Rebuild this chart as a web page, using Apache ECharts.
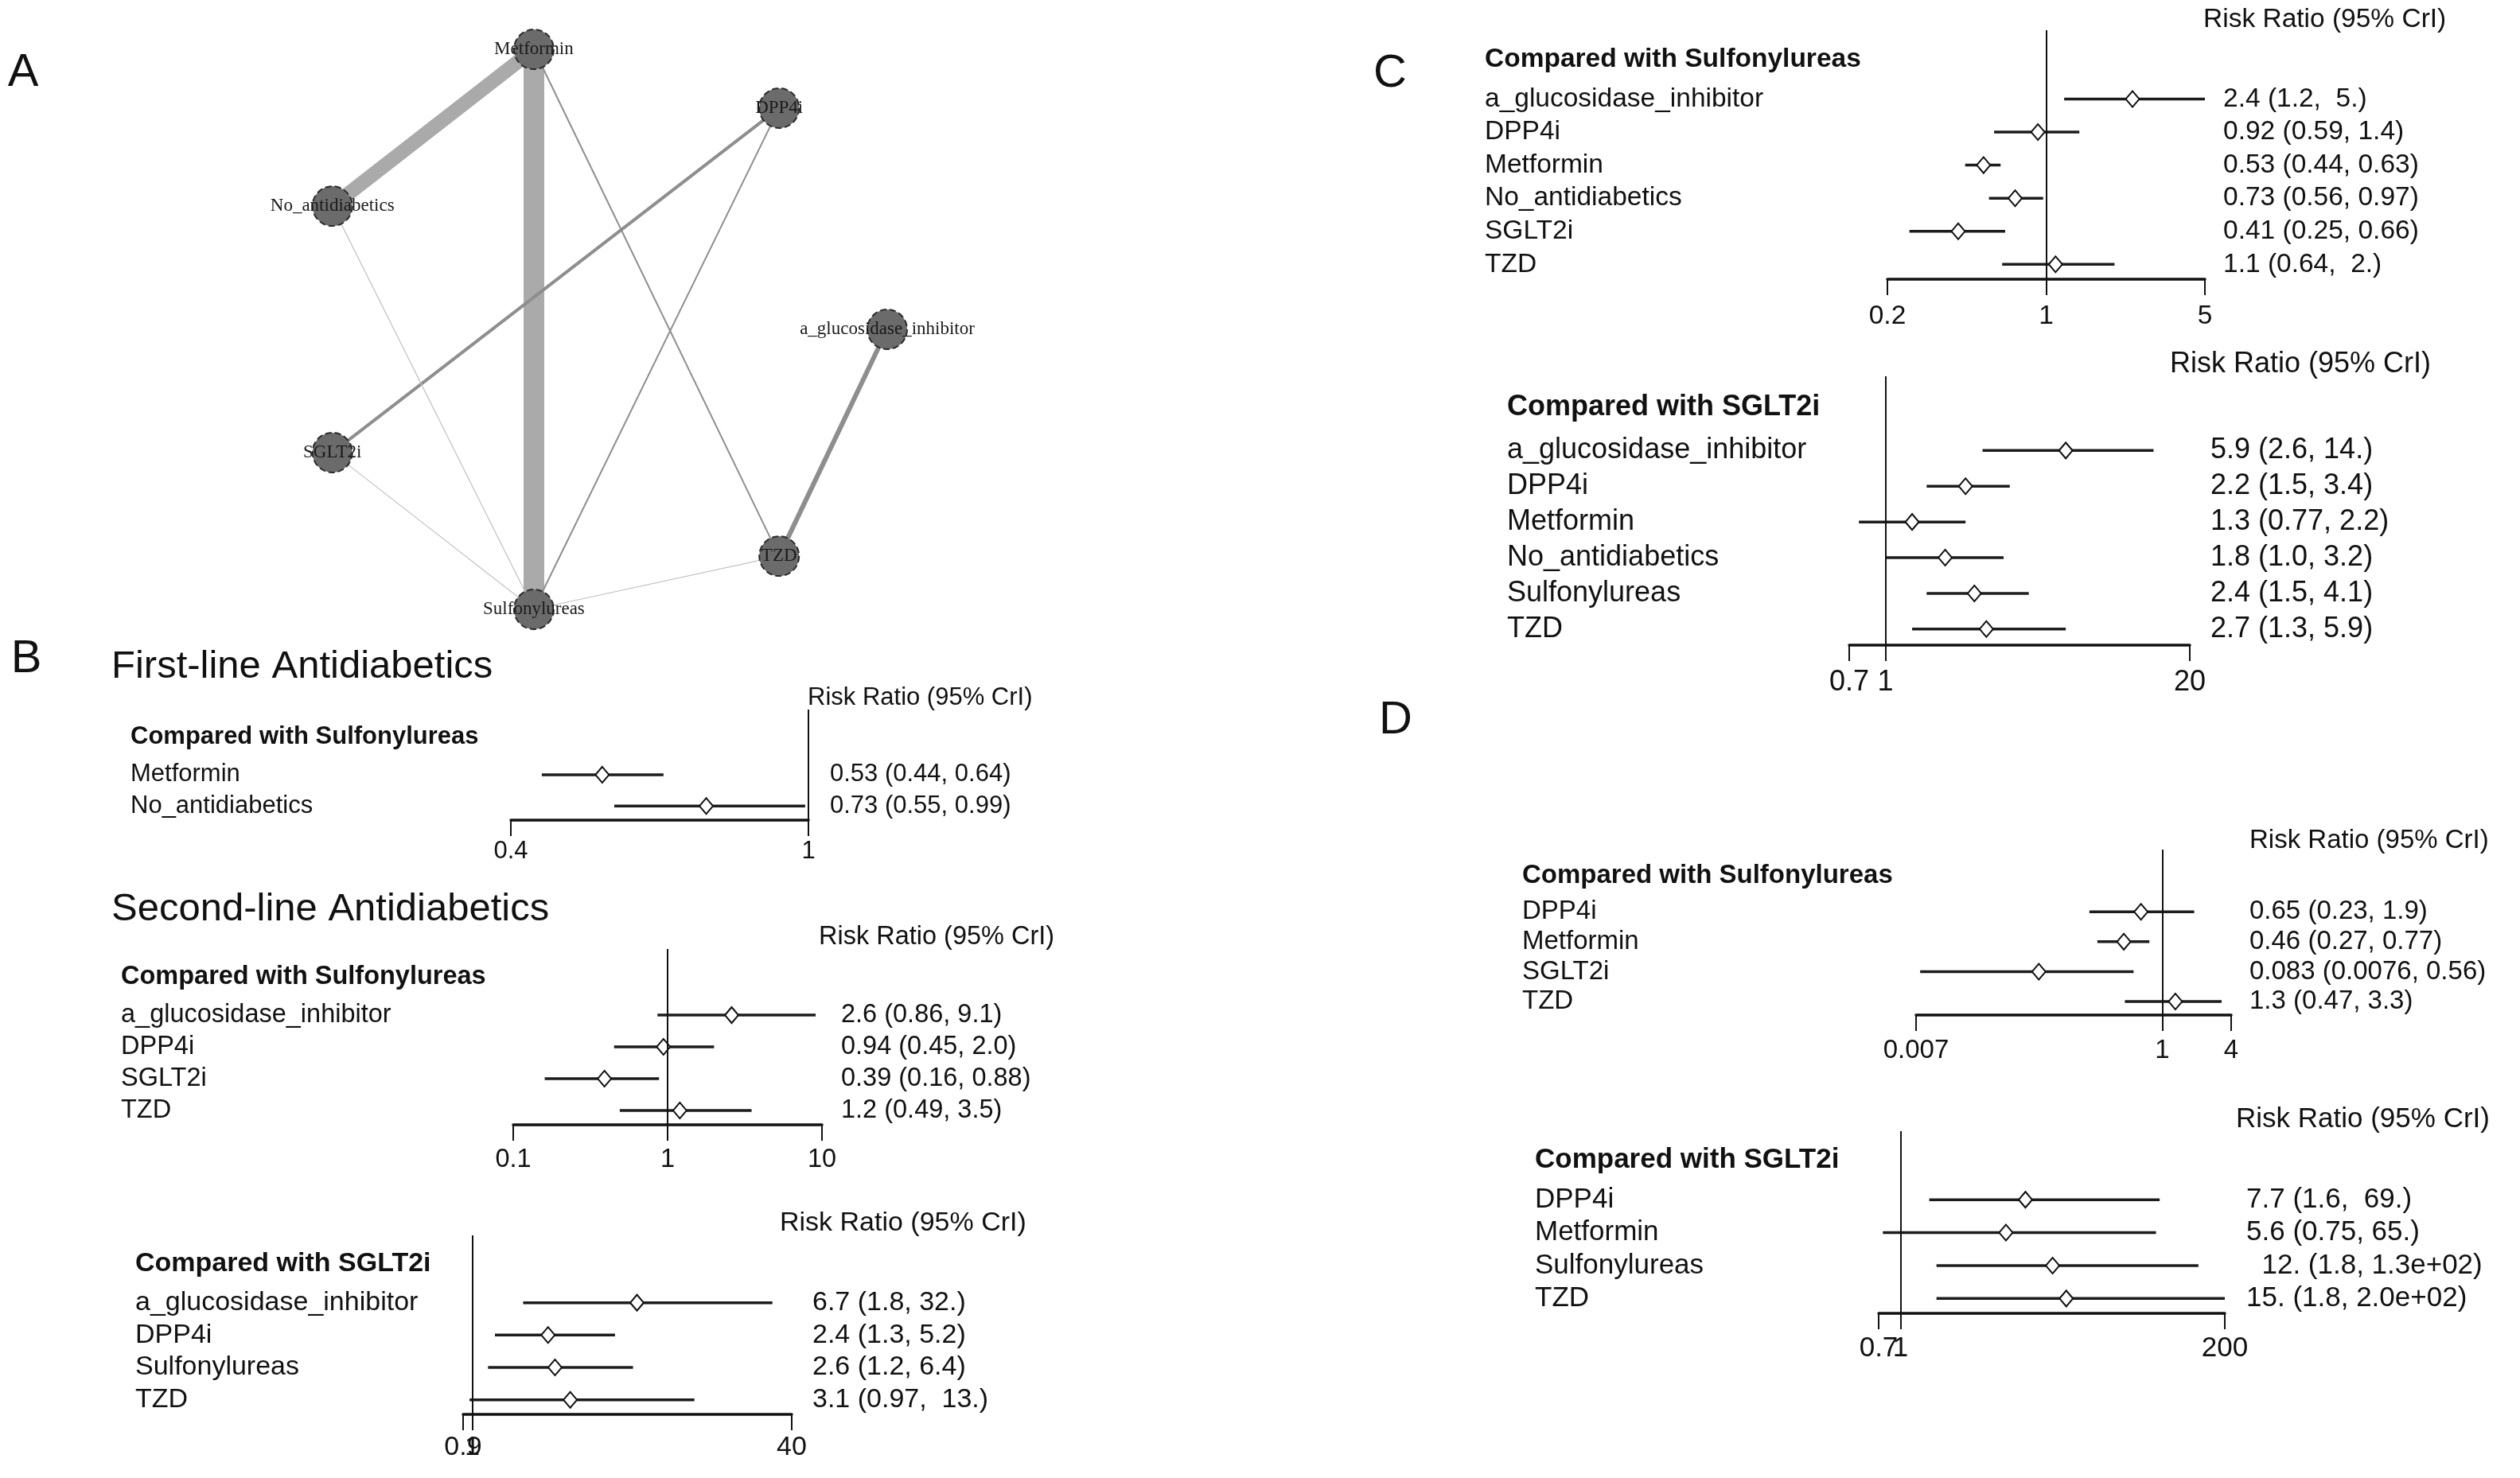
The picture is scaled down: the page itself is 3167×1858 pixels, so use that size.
<!DOCTYPE html>
<html>
<head>
<meta charset="utf-8">
<script src="https://cdn.jsdelivr.net/npm/echarts@6/dist/echarts.min.js"></script>
<style>
  html, body { margin: 0; padding: 0; background: #fff; }
  #chart { width: 3167px; height: 1858px; }
</style>
</head>
<body>
<div id="chart"></div>
<script>
// ---- panel A: network of comparisons ----
const nodeNames = ['Metformin', 'DPP4i', 'No_antidiabetics', 'a_glucosidase_inhibitor', 'SGLT2i', 'TZD', 'Sulfonylureas']
const nodeX = [-0.21, 0.63, -0.90, 1.00, -0.90, 0.63, -0.21]
const nodeY = [1.00, 0.79, 0.44, 0.00, -0.44, -0.81, -1.00]
const edgeFrom = ['Metformin', 'Metformin', 'DPP4i', 'a_glucosidase_inhibitor', 'Metformin', 'DPP4i', 'No_antidiabetics', 'SGLT2i', 'TZD']
const edgeTo = ['Sulfonylureas', 'No_antidiabetics', 'SGLT2i', 'TZD', 'TZD', 'Sulfonylureas', 'Sulfonylureas', 'Sulfonylureas', 'Sulfonylureas']
const edgeWeight = [13, 9, 2, 3, 1, 1, 0.6, 0.6, 0.6]

// ---- panel B: first-line, vs Sulfonylureas ----
const b1Names = ['Metformin', 'No_antidiabetics']
const b1Est = [0.53, 0.73]
const b1Low = [0.44, 0.55]
const b1High = [0.64, 0.99]
const b1Text = ['0.53 (0.44, 0.64)', '0.73 (0.55, 0.99)']
const b1Ticks = [0.4, 1]

// ---- panel B: second-line, vs Sulfonylureas ----
const b2Names = ['a_glucosidase_inhibitor', 'DPP4i', 'SGLT2i', 'TZD']
const b2Est = [2.6, 0.94, 0.39, 1.2]
const b2Low = [0.86, 0.45, 0.16, 0.49]
const b2High = [9.1, 2.0, 0.88, 3.5]
const b2Text = ['2.6 (0.86, 9.1)', '0.94 (0.45, 2.0)', '0.39 (0.16, 0.88)', '1.2 (0.49, 3.5)']
const b2Ticks = [0.1, 1, 10]

// ---- panel B: second-line, vs SGLT2i ----
const b3Names = ['a_glucosidase_inhibitor', 'DPP4i', 'Sulfonylureas', 'TZD']
const b3Est = [6.7, 2.4, 2.6, 3.1]
const b3Low = [1.8, 1.3, 1.2, 0.97]
const b3High = [32, 5.2, 6.4, 13]
const b3Text = ['6.7 (1.8, 32.)', '2.4 (1.3, 5.2)', '2.6 (1.2, 6.4)', '3.1 (0.97,  13.)']
const b3Ticks = [0.9, 1, 40]

// ---- panel C: vs Sulfonylureas ----
const c1Names = ['a_glucosidase_inhibitor', 'DPP4i', 'Metformin', 'No_antidiabetics', 'SGLT2i', 'TZD']
const c1Est = [2.4, 0.92, 0.53, 0.73, 0.41, 1.1]
const c1Low = [1.2, 0.59, 0.44, 0.56, 0.25, 0.64]
const c1High = [5, 1.4, 0.63, 0.97, 0.66, 2]
const c1Text = ['2.4 (1.2,  5.)', '0.92 (0.59, 1.4)', '0.53 (0.44, 0.63)', '0.73 (0.56, 0.97)', '0.41 (0.25, 0.66)', '1.1 (0.64,  2.)']
const c1Ticks = [0.2, 1, 5]

// ---- panel C: vs SGLT2i ----
const c2Names = ['a_glucosidase_inhibitor', 'DPP4i', 'Metformin', 'No_antidiabetics', 'Sulfonylureas', 'TZD']
const c2Est = [5.9, 2.2, 1.3, 1.8, 2.4, 2.7]
const c2Low = [2.6, 1.5, 0.77, 1.0, 1.5, 1.3]
const c2High = [14, 3.4, 2.2, 3.2, 4.1, 5.9]
const c2Text = ['5.9 (2.6, 14.)', '2.2 (1.5, 3.4)', '1.3 (0.77, 2.2)', '1.8 (1.0, 3.2)', '2.4 (1.5, 4.1)', '2.7 (1.3, 5.9)']
const c2Ticks = [0.7, 1, 20]

// ---- panel D: vs Sulfonylureas ----
const d1Names = ['DPP4i', 'Metformin', 'SGLT2i', 'TZD']
const d1Est = [0.65, 0.46, 0.083, 1.3]
const d1Low = [0.23, 0.27, 0.0076, 0.47]
const d1High = [1.9, 0.77, 0.56, 3.3]
const d1Text = ['0.65 (0.23, 1.9)', '0.46 (0.27, 0.77)', '0.083 (0.0076, 0.56)', '1.3 (0.47, 3.3)']
const d1Ticks = [0.007, 1, 4]

// ---- panel D: vs SGLT2i ----
const d2Names = ['DPP4i', 'Metformin', 'Sulfonylureas', 'TZD']
const d2Est = [7.7, 5.6, 12, 15]
const d2Low = [1.6, 0.75, 1.8, 1.8]
const d2High = [69, 65, 130, 200]
const d2Text = ['7.7 (1.6,  69.)', '5.6 (0.75, 65.)', '  12. (1.8, 1.3e+02)', '15. (1.8, 2.0e+02)']
const d2Ticks = [0.7, 1, 200]

const FONT = '"Liberation Sans", Arial, sans-serif'
const SERIF = '"Liberation Serif", "Times New Roman", serif'
const INK = '#111'
const HDR_SU = 'Compared with Sulfonylureas'
const HDR_SG = 'Compared with SGLT2i'

// layout of each forest plot (pixels)
const panels = [
  { names: b1Names, est: b1Est, low: b1Low, high: b1High, text: b1Text, ticks: b1Ticks, header: HDR_SU,
    left: 642, width: 374, top: 892, height: 139, labelX: 164, textX: 1043, headX: 1015, headY: 877, font: 31, tickGap: 39 },
  { names: b2Names, est: b2Est, low: b2Low, high: b2High, text: b2Text, ticks: b2Ticks, header: HDR_SU,
    left: 645, width: 388, top: 1193, height: 221, labelX: 152, textX: 1057, headX: 1029, headY: 1178, font: 32.5, tickGap: 44 },
  { names: b3Names, est: b3Est, low: b3Low, high: b3High, text: b3Text, ticks: b3Ticks, header: HDR_SG,
    left: 582, width: 413, top: 1553, height: 225, labelX: 170, textX: 1021, headX: 980, headY: 1538, font: 34, tickGap: 42 },
  { names: c1Names, est: c1Est, low: c1Low, high: c1High, text: c1Text, ticks: c1Ticks, header: HDR_SU,
    left: 2372, width: 399, top: 38, height: 313, labelX: 1866, textX: 2794, headX: 2769, headY: 25, font: 33.5, tickGap: 47 },
  { names: c2Names, est: c2Est, low: c2Low, high: c2High, text: c2Text, ticks: c2Ticks, header: HDR_SG,
    left: 2324, width: 428, top: 473, height: 338, labelX: 1894, textX: 2778, headX: 2727, headY: 458, font: 36, tickGap: 47 },
  { names: d1Names, est: d1Est, low: d1Low, high: d1High, text: d1Text, ticks: d1Ticks, header: HDR_SU,
    left: 2408, width: 396, top: 1068, height: 208, labelX: 1913, textX: 2827, headX: 2827, headY: 1057, font: 33, tickGap: 45 },
  { names: d2Names, est: d2Est, low: d2Low, high: d2High, text: d2Text, ticks: d2Ticks, header: HDR_SG,
    left: 2361, width: 435, top: 1422, height: 229, labelX: 1929, textX: 2823, headX: 2810, headY: 1407, font: 35, tickGap: 44 }
]

const lg = Math.log10

function ciLine (params, api) {
  const a = api.coord([api.value(0), api.value(2)])
  const b = api.coord([api.value(1), api.value(2)])
  return {
    type: 'line',
    shape: { x1: a[0], y1: a[1], x2: b[0], y2: b[1] },
    style: { stroke: '#1c1c1c', lineWidth: 3.5 }
  }
}

const grids = []
const xAxes = []
const yAxes = []
const series = []
const graphics = []

panels.forEach((p, i) => {
  const n = p.names.length
  const rows = p.names.map((_, j) => j)
  const tickVals = p.ticks.map(lg)
  const tickLabel = v => {
    const t = p.ticks.find(t => Math.abs(lg(t) - v) < 1e-6)
    return t === undefined ? '' : String(t)
  }
  const labelBase = {
    showMinLabel: true,
    showMaxLabel: true,
    hideOverlap: false,
    margin: p.tickGap - p.font / 2,
    fontSize: p.font,
    fontFamily: FONT,
    color: INK,
    formatter: tickLabel
  }
  grids.push({ left: p.left, top: p.top, width: p.width, height: p.height, outerBoundsMode: 'none' })
  // main log axis: line, ticks and the end labels
  xAxes.push({
    gridIndex: i,
    type: 'value',
    position: 'bottom',
    min: tickVals[0],
    max: tickVals[tickVals.length - 1],
    axisLine: { show: true, onZero: false, lineStyle: { color: INK, width: 3.5 } },
    axisTick: { show: true, customValues: tickVals, length: 20, lineStyle: { color: INK, width: 2 } },
    axisLabel: Object.assign({}, labelBase, { customValues: tickVals.filter(v => v !== 0) }),
    splitLine: { show: false }
  })
  // twin axis carrying only the "1" label, so it may overlap the end label as in R
  xAxes.push({
    gridIndex: i,
    type: 'value',
    position: 'bottom',
    min: tickVals[0],
    max: tickVals[tickVals.length - 1],
    axisLine: { show: false },
    axisTick: { show: false },
    axisLabel: Object.assign({}, labelBase, { customValues: [0] }),
    splitLine: { show: false }
  })
  const yBase = {
    gridIndex: i,
    type: 'value',
    inverse: true,
    min: -2.08,
    max: n - 0.55,
    axisLine: { show: false },
    axisTick: { show: false },
    splitLine: { show: false }
  }
  yAxes.push(Object.assign({}, yBase, {
    position: 'left',
    axisLabel: {
      customValues: [-1.2].concat(rows),
      showMinLabel: true,
      showMaxLabel: true,
      align: 'left',
      margin: p.left - p.labelX,
      fontSize: p.font,
      fontFamily: FONT,
      color: INK,
      formatter: v => v < -0.5 ? '{h|' + p.header + '}' : p.names[Math.round(v)],
      rich: { h: { fontWeight: 'bold', fontSize: p.font, fontFamily: FONT, color: INK } }
    }
  }))
  yAxes.push(Object.assign({}, yBase, {
    position: 'right',
    axisLabel: {
      customValues: rows,
      showMinLabel: true,
      showMaxLabel: true,
      align: 'left',
      margin: p.textX - p.left - p.width,
      fontSize: p.font,
      fontFamily: FONT,
      color: INK,
      formatter: v => p.text[Math.round(v)]
    }
  }))
  series.push({
    type: 'custom',
    xAxisIndex: 2 * i,
    yAxisIndex: 2 * i,
    silent: true,
    z: 2,
    encode: { x: [0, 1], y: 2 },
    data: rows.map(j => [lg(p.low[j]), lg(p.high[j]), j]),
    renderItem: ciLine
  })
  series.push({
    type: 'scatter',
    xAxisIndex: 2 * i,
    yAxisIndex: 2 * i,
    silent: true,
    z: 3,
    symbol: 'diamond',
    symbolSize: [17, 20],
    itemStyle: { color: '#fff', borderColor: INK, borderWidth: 2, opacity: 1 },
    data: rows.map(j => [lg(p.est[j]), j]),
    markLine: {
      silent: true,
      symbol: 'none',
      label: { show: false },
      lineStyle: { color: INK, width: 2, type: 'solid' },
      data: [{ xAxis: 0 }]
    }
  })
  graphics.push({
    type: 'text',
    x: p.headX,
    y: p.headY,
    style: { text: 'Risk Ratio (95% CrI)', font: p.font + 'px ' + FONT, fill: INK, align: 'left', verticalAlign: 'middle' }
  })
})

// network grid (panel A)
const gi = panels.length
grids.push({ left: 381, top: 62, width: 734, height: 704, outerBoundsMode: 'none' })
xAxes.push({ gridIndex: gi, type: 'value', min: -1, max: 1, show: false })
yAxes.push({ gridIndex: gi, type: 'value', min: -1, max: 1, show: false })

function edgeColor (w) {
  if (w >= 5) return '#aaaaaa'
  if (w >= 1) return '#8e8e8e'
  return '#c2c2c2'
}

series.push({
  type: 'graph',
  coordinateSystem: 'cartesian2d',
  xAxisIndex: xAxes.length - 1,
  yAxisIndex: yAxes.length - 1,
  layout: 'none',
  silent: true,
  symbol: 'circle',
  symbolSize: 50,
  itemStyle: { color: '#6b6b6b', borderColor: '#2b2b2b', borderWidth: 2, borderType: 'dashed' },
  label: { show: true, position: 'inside', fontFamily: SERIF, fontSize: 23, color: '#1a1a1a' },
  lineStyle: { opacity: 1, curveness: 0 },
  data: nodeNames.map((name, k) => ({ name: name, value: [nodeX[k], nodeY[k]] })),
  links: edgeFrom.map((s, k) => ({
    source: s,
    target: edgeTo[k],
    lineStyle: { width: edgeWeight[k] * 2, color: edgeColor(edgeWeight[k]), opacity: 1 }
  }))
})

// panel letters and section titles
const letters = [['A', 29, 92], ['B', 33, 829], ['C', 1747, 93], ['D', 1754, 906]]
letters.forEach(l => {
  graphics.push({
    type: 'text',
    x: l[1],
    y: l[2],
    style: { text: l[0], font: '58px ' + FONT, fill: INK, align: 'center', verticalAlign: 'middle' }
  })
})
graphics.push({ type: 'text', x: 140, y: 838, style: { text: 'First-line Antidiabetics', font: '49px ' + FONT, fill: INK, align: 'left', verticalAlign: 'middle' } })
graphics.push({ type: 'text', x: 140, y: 1143, style: { text: 'Second-line Antidiabetics', font: '49px ' + FONT, fill: INK, align: 'left', verticalAlign: 'middle' } })

const chart = echarts.init(document.getElementById('chart'))
chart.setOption({
  backgroundColor: '#fff',
  animation: false,
  textStyle: { fontFamily: FONT },
  grid: grids,
  xAxis: xAxes,
  yAxis: yAxes,
  series: series,
  graphic: graphics
})
</script>
</body>
</html>
